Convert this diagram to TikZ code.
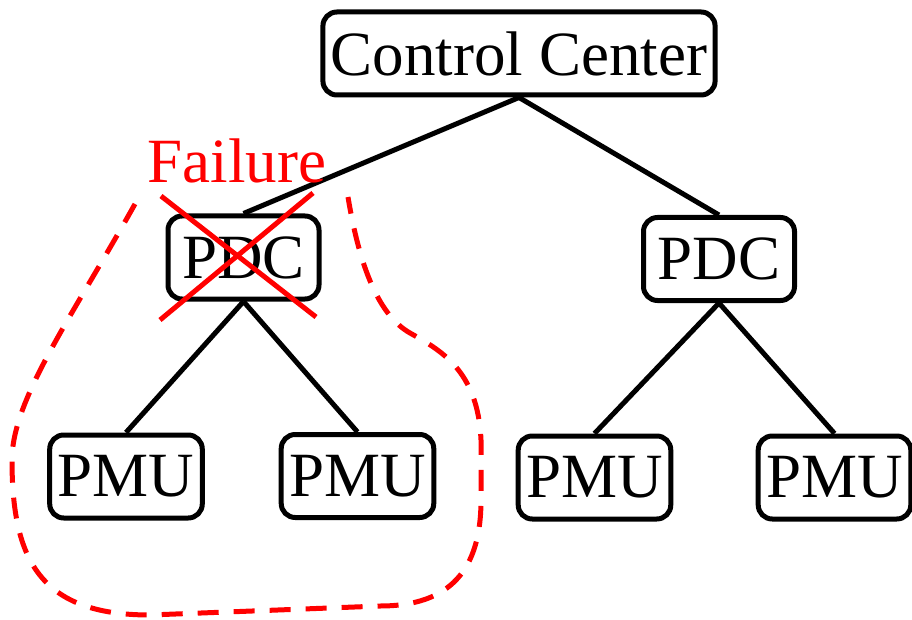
\documentclass[tikz,border=0pt]{standalone}
\usepackage{fontspec}
\setmainfont{Liberation Serif}
\begin{document}
\begin{tikzpicture}[x=1pt,y=-1pt,
  box/.style={draw=black, line width=5pt, rounded corners=14pt, fill=white,
    minimum width=151pt, minimum height=83pt, inner xsep=8pt,
    font=\fontsize{63}{70}\selectfont},
  link/.style={draw=black, line width=5pt},
  fail/.style={draw=red, line width=5pt},
  region/.style={draw=red, line width=5pt, dash pattern=on 21pt off 15pt}]
  \useasboundingbox (0,0) rectangle (912,620);

  % failed area around the left PDC and its PMUs
  \draw[region] (135,204) .. controls (70,320) and (12,400) .. (12,460)
    .. controls (12,560) and (40,615) .. (150,615)
    -- (380,606) .. controls (450,606) and (481,570) .. (481,500)
    -- (481,440) .. controls (478,370) and (440,350) .. (410,333)
    .. controls (380,316) and (360,270) .. (348,197);

  % hierarchy
  \node[box] (cc) at (519,53.5) {Control Center};
  \node[box] (pdcL) at (243.5,257.5) {PDC};
  \node[box] (pdcR) at (719,259) {PDC};
  \node[box] (pmu1) at (126,476.5) {PMU};
  \node[box] (pmu2) at (357.5,476) {PMU};
  \node[box] (pmu3) at (594.5,477.5) {PMU};
  \node[box] (pmu4) at (834.5,477.5) {PMU};

  \draw[link] (cc.south) -- (pdcL.north);
  \draw[link] (cc.south) -- (pdcR.north);
  \draw[link] (pdcL.south) -- (pmu1.north);
  \draw[link] (pdcL.south) -- (pmu2.north);
  \draw[link] (pdcR.south) -- (pmu3.north);
  \draw[link] (pdcR.south) -- (pmu4.north);

  % failure mark on the left PDC
  \node[anchor=base, text=red, inner sep=0pt, font=\fontsize{63}{70}\selectfont]
    (failtxt) at (237,183) {Failure};
  \draw[fail] (161,196) -- (316,317);
  \draw[fail] (313,193) -- (160,320);
\end{tikzpicture}
\end{document}
